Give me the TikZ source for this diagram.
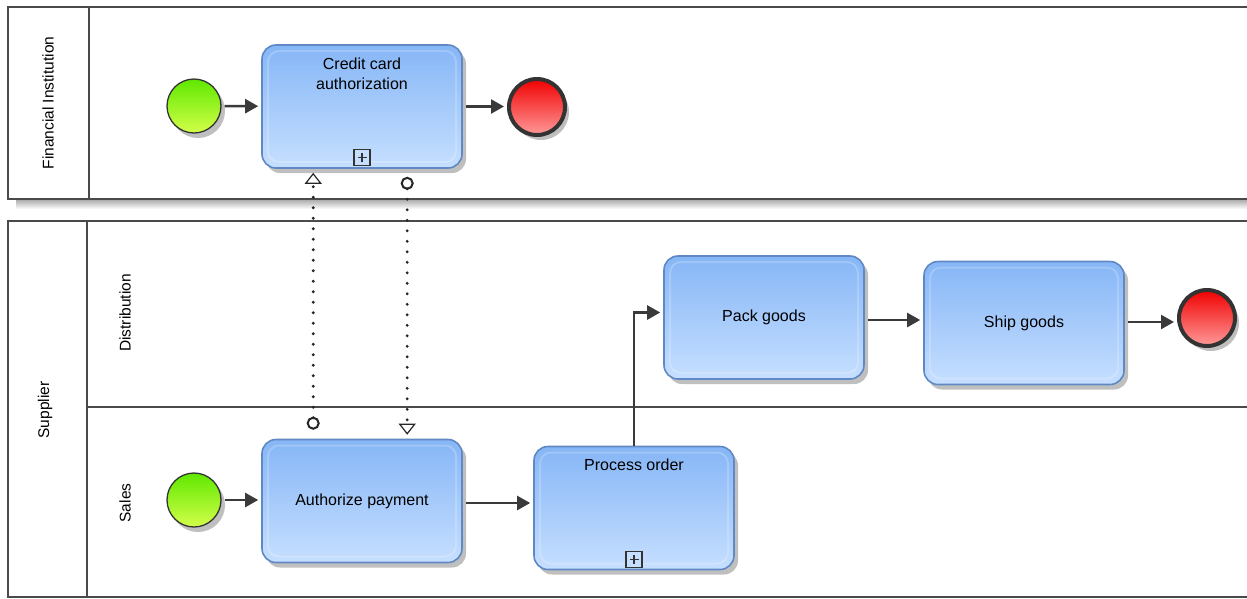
\documentclass[tikz,border=0pt]{standalone}
\usepackage{fontspec}
\setmainfont{Liberation Sans}
\usetikzlibrary{arrows.meta,shadows,calc}
\definecolor{taskTop}{HTML}{86B6F6}
\definecolor{taskBot}{HTML}{C6DFFF}
\definecolor{taskLine}{HTML}{5F88C4}
\definecolor{flowC}{HTML}{3A3A3A}
\definecolor{poolC}{HTML}{4A4A4A}
\definecolor{startTop}{HTML}{5FE800}
\definecolor{startBot}{HTML}{D4FF4A}
\definecolor{endTop}{HTML}{F00000}
\definecolor{endBot}{HTML}{FF9A9A}
\tikzset{
  shad/.style={drop shadow={shadow xshift=4pt, shadow yshift=-5pt, opacity=.25, fill=black}},
  task/.style={draw=taskLine, line width=1.6pt, rounded corners=14pt,
    top color=taskTop, bottom color=taskBot, minimum width=200pt, minimum height=123pt,
    font=\fontsize{16}{20}\selectfont, align=center, inner sep=0pt, shad,
    path picture={\draw[white, opacity=.2, line width=2pt, rounded corners=11pt]
      ([shift={(6pt,6pt)}]path picture bounding box.south west) rectangle
      ([shift={(-6pt,-6pt)}]path picture bounding box.north east);}},
  toplabel/.style={label={[font=\fontsize{16}{20}\selectfont, align=center, anchor=north, yshift=-10pt]north:#1}},
  startev/.style={circle, draw=black!80, line width=1.3pt, minimum size=54pt, inner sep=0pt,
    top color=startTop, bottom color=startBot, shad},
  endev/.style={circle, draw=black!80, line width=4pt, minimum size=56pt, inner sep=0pt,
    top color=endTop, bottom color=endBot, shad},
  seq/.style={draw=flowC, line width=2.4pt, -{Triangle[length=13pt,width=14pt]}, shorten <=3pt, shorten >=3pt},
  msg/.style={draw=black!85, line width=3.2pt, dash pattern=on 0pt off 10.5pt, line cap=round,
    {Circle[open,length=13pt,width=13pt,line width=2pt]}-{Triangle[open,length=11pt,width=17pt,line width=1.2pt]}},
  subm/.style={draw=black!80, line width=1.3pt, minimum size=16pt, inner sep=0pt, fill=taskBot,
    path picture={\draw[black!80, line width=1.2pt]
      ([yshift=3.5pt]path picture bounding box.south) -- ([yshift=-3.5pt]path picture bounding box.north)
      ([xshift=3.5pt]path picture bounding box.west) -- ([xshift=-3.5pt]path picture bounding box.east);}},
  pool/.style={draw=poolC, line width=1.4pt},
  plabel/.style={rotate=90, font=\fontsize{15.5}{18}\selectfont}
}
\begin{document}
\begin{tikzpicture}[x=1pt,y=-1pt]
\useasboundingbox (0,0) rectangle (1247,598);
\fill[white] (0,0) rectangle (1247,598);
% pool shadow
\shade[top color=black!35, bottom color=white] (16,199) rectangle (1247,209);
% top pool
\draw[pool] (1250,7) -- (8,7) -- (8,199) -- (1250,199);
\draw[pool] (89,7) -- (89,199);
\node[plabel] (fi) at (48,103) {Financial Institution};
% bottom pool
\draw[pool] (1250,221) -- (8,221) -- (8,597) -- (1250,597);
\draw[pool] (87,221) -- (87,597);
\draw[pool] (87,407) -- (1250,407);
\node[plabel] (sup) at (45,410) {Supplier};
\node[plabel] (dist) at (125,313) {Distribution};
\node[plabel] (sales) at (125,503) {Sales};

% top pool content
\node[startev] (s1) at (194,106) {};
\node[task, toplabel={Credit card\\authorization}] (cc) at (362,106.5) {};
\node[subm] (ccm) at ($(cc.south)+(0,-11)$) {};
\node[endev] (e1) at (537,107) {};
\draw[seq] (s1) -- (cc);
\draw[seq] (cc.east) -- (cc.east -| e1.west);

% distribution lane
\node[task] (pack) at (764,317.5) {Pack goods};
\node[task] (ship) at (1024,323) {Ship goods};
\node[endev] (e2) at (1207,318) {};
\draw[seq] (pack.east |- 0,320) -- (ship.west |- 0,320);
\draw[seq] (ship.east |- 0,322) -- (e2.west |- 0,322);

% sales lane
\node[startev] (s2) at (194,500) {};
\node[task] (auth) at (362,501) {Authorize payment};
\node[task, toplabel={Process order}] (proc) at (634,508) {};
\node[subm] (procm) at ($(proc.south)+(0,-11)$) {};
\draw[seq] (s2) -- (s2 -| auth.west);
\draw[seq] (auth.east |- 0,503) -- (proc.west |- 0,503);
\draw[seq, shorten <=0pt] (proc.north) |- ($(pack.west)+(0,-5)$);

% message flows
\draw[msg, shorten <=9pt, shorten >=4pt] ($(auth.north west)+(52,0)$) -- ($(cc.south west)+(52,0)$);
\draw[msg, shorten <=8pt, shorten >=4pt] ($(cc.south west)+(146,0)$) -- ($(auth.north west)+(146,0)$);
\end{tikzpicture}
\end{document}
